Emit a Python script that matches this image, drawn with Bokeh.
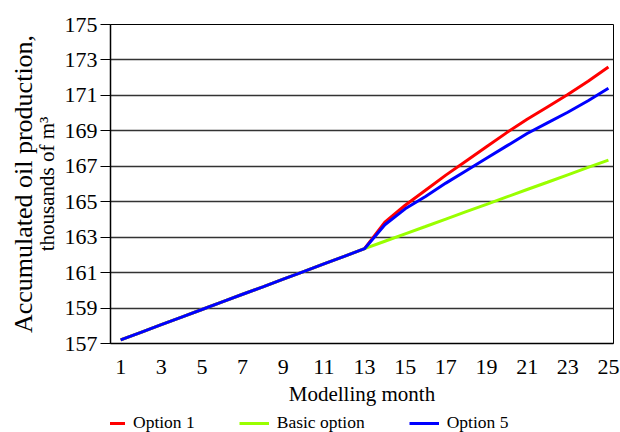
from bokeh.plotting import figure
from bokeh.layouts import column
from bokeh.models import Range1d, FixedTicker, Legend, LegendItem, LinearAxis
from bokeh.embed import file_html
from bokeh.resources import INLINE

months = list(range(1, 26))
base_history = [157.2, 157.63, 158.06, 158.49, 158.92, 159.35, 159.78, 160.2, 160.63,
                161.06, 161.49, 161.92, 162.35]
option1 = base_history + [163.85, 164.8, 165.65, 166.5, 167.3, 168.1, 168.9, 169.65,
                          170.35, 171.05, 171.8, 172.6]
basic_option = base_history + [162.77, 163.19, 163.6, 164.02, 164.44, 164.85, 165.27,
                               165.69, 166.1, 166.52, 166.94, 167.35]
option5 = base_history + [163.7, 164.6, 165.3, 166.05, 166.75, 167.45, 168.15, 168.85,
                          169.45, 170.05, 170.7, 171.4]

x_ticks = list(range(1, 26, 2))
y_ticks = list(range(157, 176, 2))
series_names = ["Option 1", "Basic option", "Option 5"]
series_colors = ["#FF0000", "#99FF00", "#0000FF"]
series_values = [option1, basic_option, option5]

FONT = "Liberation Serif"

p = figure(width=620, height=413, output_backend="svg", toolbar_location=None,
           x_range=Range1d(0.5, 25.25), y_range=Range1d(157, 175),
           min_border_left=110, min_border_right=7, min_border_top=24,
           min_border_bottom=70)
p.background_fill_color = "white"
p.border_fill_color = "white"
p.outline_line_color = "black"
p.outline_line_width = 1

for vals, col in zip(series_values, series_colors):
    p.line(months, vals, line_color=col, line_width=3)

p.xaxis.ticker = FixedTicker(ticks=x_ticks)
p.yaxis.ticker = FixedTicker(ticks=y_ticks)
p.xgrid.grid_line_color = None
p.ygrid.grid_line_color = "#333333"
p.ygrid.grid_line_width = 1.5

for ax in (p.xaxis, p.yaxis):
    ax.axis_line_color = "black"
    ax.axis_line_width = 1.5
    ax.major_label_text_font = FONT
    ax.major_label_text_font_size = "22px"
    ax.major_label_text_color = "black"
    ax.axis_label_text_font = FONT
    ax.axis_label_text_font_style = "normal"
    ax.axis_label_text_color = "black"
    ax.minor_tick_line_color = None

p.xaxis.major_tick_line_color = None
p.xaxis.major_tick_out = 0
p.xaxis.major_tick_in = 0
p.xaxis.major_label_standoff = 16
p.xaxis.axis_label = "Modelling month"
p.xaxis.axis_label_text_font_size = "21px"
p.xaxis.axis_label_standoff = 5

p.yaxis.major_tick_line_color = "black"
p.yaxis.major_tick_out = 10
p.yaxis.major_tick_in = 0
p.yaxis.major_label_standoff = 3
p.yaxis.axis_label = "thousands of m³"
p.yaxis.axis_label_text_font_size = "21px"
p.yaxis.axis_label_standoff = 3

outer = LinearAxis(ticker=FixedTicker(ticks=[]), axis_line_color=None,
                   major_tick_line_color=None, minor_tick_line_color=None,
                   major_tick_out=0, major_tick_in=0, major_label_standoff=0,
                   axis_label="Accumulated oil production,",
                   axis_label_text_font=FONT, axis_label_text_font_size="26px",
                   axis_label_text_font_style="normal", axis_label_text_color="black",
                   axis_label_standoff=-6)
p.add_layout(outer, "left")

# legend strip below the chart (series drawn out of view so only swatches show)
lf = figure(width=620, height=19, output_backend="svg", toolbar_location=None,
            x_range=Range1d(0.5, 25.25), y_range=Range1d(0, 1), min_border=0)
lf.axis.visible = False
lf.grid.visible = False
lf.outline_line_color = None
lf.border_fill_color = "white"
swatches = [lf.line(months, vals, line_color=c, line_width=3)
            for vals, c in zip(series_values, series_colors)]
legend = Legend(items=[LegendItem(label=n, renderers=[r]) for n, r in zip(series_names, swatches)],
                location=(-15, -1), orientation="horizontal",
                border_line_color=None, background_fill_alpha=0,
                padding=0, margin=0, spacing=44, glyph_width=30, label_standoff=8,
                label_text_font=FONT, label_text_font_size="17.5px",
                label_text_color="black")
lf.add_layout(legend, "center")

layout = column(p, lf, spacing=0)
open("out.html", "w").write(file_html(layout, INLINE))
